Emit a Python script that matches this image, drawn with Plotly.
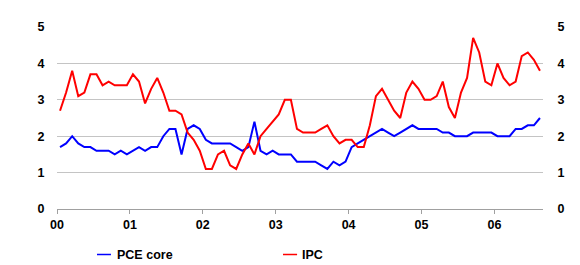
import plotly.graph_objects as go

# Monthly data, Jan 2000 - Aug 2006 (year-on-year %)
pce_core = [1.7, 1.8, 2.0, 1.8, 1.7, 1.7, 1.6, 1.6, 1.6, 1.5, 1.6, 1.5,
            1.6, 1.7, 1.6, 1.7, 1.7, 2.0, 2.2, 2.2, 1.5, 2.2, 2.3, 2.2,
            1.9, 1.8, 1.8, 1.8, 1.8, 1.7, 1.6, 1.7, 2.4, 1.6, 1.5, 1.6,
            1.5, 1.5, 1.5, 1.3, 1.3, 1.3, 1.3, 1.2, 1.1, 1.3, 1.2, 1.3,
            1.7, 1.8, 1.9, 2.0, 2.1, 2.2, 2.1, 2.0, 2.1, 2.2, 2.3, 2.2,
            2.2, 2.2, 2.2, 2.1, 2.1, 2.0, 2.0, 2.0, 2.1, 2.1, 2.1, 2.1,
            2.0, 2.0, 2.0, 2.2, 2.2, 2.3, 2.3, 2.5]
ipc = [2.7, 3.2, 3.8, 3.1, 3.2, 3.7, 3.7, 3.4, 3.5, 3.4, 3.4, 3.4,
       3.7, 3.5, 2.9, 3.3, 3.6, 3.2, 2.7, 2.7, 2.6, 2.1, 1.9, 1.6,
       1.1, 1.1, 1.5, 1.6, 1.2, 1.1, 1.5, 1.8, 1.5, 2.0, 2.2, 2.4,
       2.6, 3.0, 3.0, 2.2, 2.1, 2.1, 2.1, 2.2, 2.3, 2.0, 1.8, 1.9,
       1.9, 1.7, 1.7, 2.3, 3.1, 3.3, 3.0, 2.7, 2.5, 3.2, 3.5, 3.3,
       3.0, 3.0, 3.1, 3.5, 2.8, 2.5, 3.2, 3.6, 4.7, 4.3, 3.5, 3.4,
       4.0, 3.6, 3.4, 3.5, 4.2, 4.3, 4.1, 3.8]
year_labels = ["00", "01", "02", "03", "04", "05", "06"]
y_ticks = [0, 1, 2, 3, 4, 5]
series_names = ["PCE core", "IPC"]
series_colors = ["#0000ff", "#ff0000"]

months = [i + 0.5 for i in range(len(pce_core))]
year_pos = [12 * i for i in range(len(year_labels))]

FONT = "Liberation Sans"
tickfont = dict(family=FONT, size=12.5, color="#000000", weight="bold")

fig = go.Figure()
fig.add_trace(go.Scatter(x=months, y=pce_core, mode="lines", name=series_names[0],
                         line=dict(color=series_colors[0], width=2), yaxis="y"))
fig.add_trace(go.Scatter(x=months, y=ipc, mode="lines", name=series_names[1],
                         line=dict(color=series_colors[1], width=2), yaxis="y2"))

# page body has an 8px default margin, so the figure is sized to fit the window
fig.update_layout(
    width=572, height=257,
    margin=dict(l=49, r=37, t=13, b=56),
    paper_bgcolor="white", plot_bgcolor="white",
    showlegend=False,
    xaxis=dict(range=[0, 80], tickvals=year_pos, ticktext=year_labels,
               showgrid=False, zeroline=False, showline=True, linecolor="#a0a0a0",
               linewidth=1, ticks="outside", ticklen=4, tickcolor="#a0a0a0",
               tickfont=tickfont, fixedrange=True),
    yaxis=dict(range=[0, 5], tickvals=y_ticks, showgrid=True, gridcolor="#c4c4c4",
               gridwidth=1, zeroline=False, showline=False, ticks="outside",
               ticklen=9, tickcolor="rgba(0,0,0,0)", tickfont=tickfont),
    yaxis2=dict(range=[0, 5], tickvals=y_ticks, overlaying="y", side="right",
                showgrid=False, zeroline=False, showline=False, ticks="outside",
                ticklen=11, tickcolor="rgba(0,0,0,0)", tickfont=tickfont),
)

# custom legend (short line samples)
legend_items = [(0.0823, 0.111, 0.1193), (0.465, 0.494, 0.50)]
ly = -0.25
for (x0, x1, xt), name, col in zip(legend_items, series_names, series_colors):
    fig.add_shape(type="line", xref="paper", yref="paper", x0=x0, x1=x1, y0=ly, y1=ly,
                  line=dict(color=col, width=1.5))
    fig.add_annotation(xref="paper", yref="paper", x=xt, y=ly, text=name, showarrow=False,
                       xanchor="left", yanchor="middle",
                       font=dict(family=FONT, size=12.5, color="#000000", weight="bold"))

fig.write_html("out.html")
